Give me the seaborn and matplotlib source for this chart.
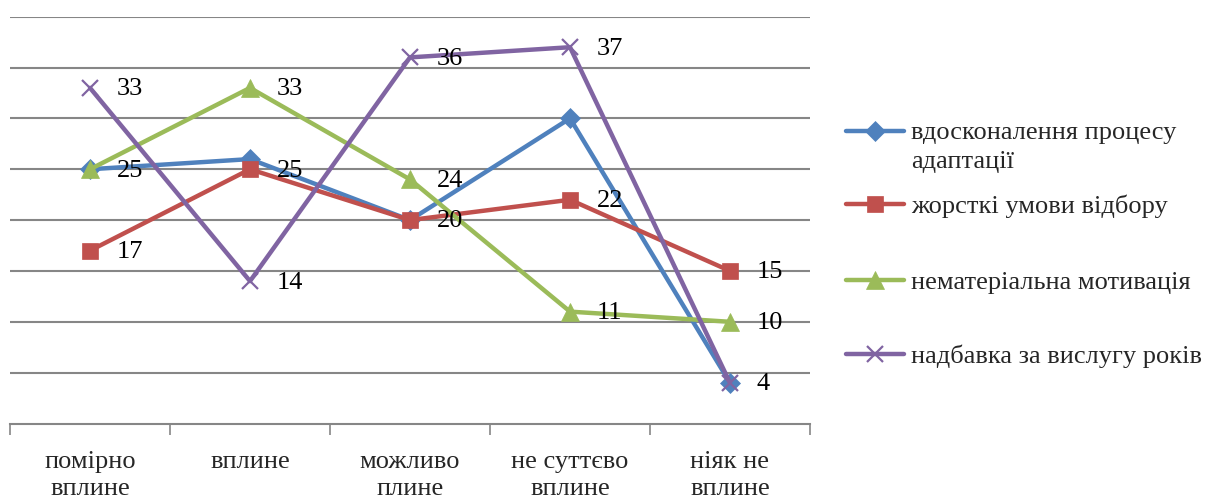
import numpy as np
import pandas as pd
import matplotlib
matplotlib.use("Agg")
import matplotlib.pyplot as plt
import seaborn as sns

categories = ["помірно\nвплине", "вплине", "можливо\nплине", "не суттєво\nвплине", "ніяк не\nвплине"]
series_names = ["вдосконалення процесу\nадаптації", "жорсткі умови відбору",
                "нематеріальна мотивація", "надбавка за вислугу років"]
adaptation = [25, 26, 20, 30, 4]
selection = [17, 25, 20, 22, 15]
motivation = [25, 33, 24, 11, 10]
seniority = [33, 14, 36, 37, 4]
show_labels = [False, True, True, True]

colors = ["#4F81BD", "#C0504D", "#9BBB59", "#8064A2"]
markers = ["D", "s", "^", "x"]
msizes = [10, 12, 13, 12]

sns.set_theme(style="white")
plt.rcParams['font.family'] = ['Liberation Serif', 'DejaVu Serif']

fig = plt.figure(figsize=(12.05, 5.0), dpi=100)
ax = fig.add_axes([10/1205, 1-423.5/500, 800/1205, (423.5-16.7)/500])

x = np.arange(len(categories))
all_vals = [adaptation, selection, motivation, seniority]
for name, vals, c, m, ms, lab in zip(series_names, all_vals, colors, markers, msizes, show_labels):
    df = pd.DataFrame({"x": x, "y": vals})
    sns.lineplot(data=df, x="x", y="y", ax=ax, color=c, marker=m, markersize=ms,
                 linewidth=3.2, markeredgecolor=c, markeredgewidth=(1.6 if m == "x" else 0.5),
                 label=name, legend=False)
    if lab:
        for xi, v in zip(x, vals):
            ax.annotate(str(v), (xi, v), xytext=(19, -1), textcoords="offset points",
                        ha="left", va="center", fontsize=19, color="black")

ax.set_xlim(-0.5, len(categories) - 0.5)
ax.set_ylim(0, 40)
ax.set_yticks(np.arange(5, 41, 5))
ax.yaxis.grid(True, color="#868686", linewidth=1.5)
ax.tick_params(axis="y", length=0, labelleft=False)
ax.set_xticks(x)
ax.set_xticklabels(categories, fontsize=19, linespacing=1.25)
ax.set_xticks(np.arange(-0.5, len(categories), 1.0), minor=True)
ax.tick_params(axis="x", which="major", length=0, pad=20)
ax.tick_params(axis="x", which="minor", length=8, width=1.2, color="#868686", bottom=True)
ax.set_xlabel("")
ax.set_ylabel("")
for s in ["top", "right", "left"]:
    ax.spines[s].set_visible(False)
ax.spines["bottom"].set_color("#868686")
ax.spines["bottom"].set_linewidth(1.5)
ax.set_axisbelow(True)

# legend: one entry per row, rows placed like the original (handle centres in px)
handles, labels = ax.get_legend_handles_labels()
row_y = [131, 206, 282, 356]
for i, (h, l, yy) in enumerate(zip(handles, labels, row_y)):
    leg = fig.legend([h], [l], loc="center left", bbox_to_anchor=(846/1205, 1-yy/500),
                     frameon=False, fontsize=19, handlelength=2.2, handletextpad=0.25,
                     borderpad=0, borderaxespad=0)
    if "\n" in l:
        for t in leg.get_texts():
            t.set_linespacing(1.4)
        for col in leg._legend_handle_box.get_children():
            for hp in col.get_children():
                hp.align = "top"
        leg.set_loc("upper left")
        leg.set_bbox_to_anchor((846/1205, 1-(yy-9)/500), transform=fig.transFigure)

fig.savefig("out.png", dpi=100)
